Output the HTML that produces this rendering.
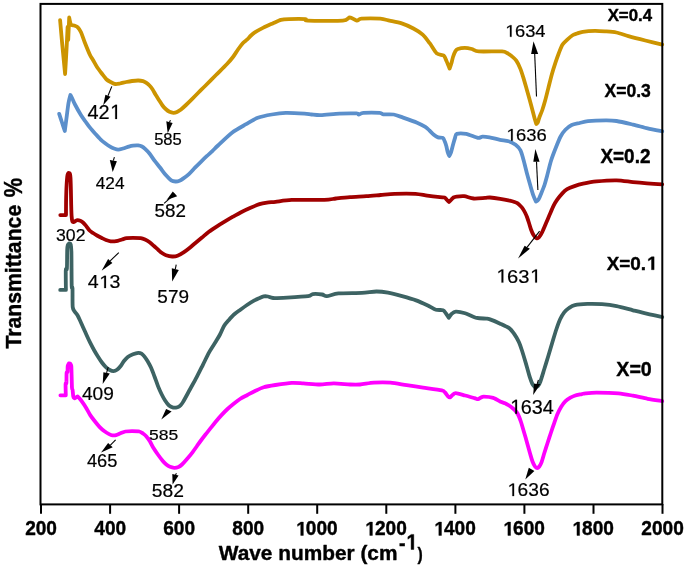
<!DOCTYPE html>
<html><head><meta charset="utf-8"><style>
html,body{margin:0;padding:0;background:#fff;}
body{width:685px;height:566px;overflow:hidden;font-family:"Liberation Sans",sans-serif;}
svg{display:block;will-change:transform;}
text{-webkit-font-smoothing:antialiased;}
</style></head><body>
<svg width="685" height="566" viewBox="0 0 685 566" font-family="Liberation Sans, sans-serif">
<rect width="685" height="566" fill="#fff"/>
<path d="M60.10,20.20 C60.39,23.51 61.63,37.83 62.30,45.00 C62.97,52.17 65.10,74.00 65.10,74.00 C65.10,74.00 66.27,54.27 66.60,48.00 C66.93,41.73 67.60,27.00 67.60,27.00 C67.60,27.00 68.20,40.00 68.20,40.00 C68.20,40.00 69.20,17.50 69.20,17.50 C69.20,17.50 70.35,23.43 71.00,24.50 C71.65,25.57 73.19,25.13 74.10,25.50 C75.01,25.87 76.88,26.39 77.80,27.30 C78.72,28.21 80.08,30.31 81.00,32.30 C81.92,34.29 83.50,39.17 84.70,42.20 C85.90,45.23 88.89,52.63 90.00,55.00 C91.11,57.37 92.07,58.40 93.00,60.00 C93.93,61.60 95.83,65.20 97.00,67.00 C98.17,68.80 100.52,71.83 101.80,73.50 C103.08,75.17 105.41,78.37 106.60,79.50 C107.79,80.63 109.54,81.40 110.70,82.00 C111.86,82.60 114.06,83.80 115.30,84.00 C116.54,84.20 118.53,83.77 120.00,83.50 C121.47,83.23 124.70,82.33 126.30,82.00 C127.90,81.67 130.40,81.20 132.00,81.00 C133.60,80.80 136.83,80.47 138.30,80.50 C139.77,80.53 141.97,80.91 143.00,81.20 C144.03,81.49 145.13,82.13 146.00,82.70 C146.87,83.27 148.63,84.62 149.50,85.50 C150.37,86.38 151.70,88.10 152.50,89.30 C153.30,90.50 154.62,93.05 155.50,94.50 C156.38,95.95 158.17,98.73 159.10,100.20 C160.03,101.67 161.62,104.33 162.50,105.50 C163.38,106.67 164.77,108.16 165.70,109.00 C166.63,109.84 168.47,111.29 169.50,111.80 C170.53,112.31 172.40,112.77 173.40,112.80 C174.40,112.83 175.99,112.44 177.00,112.00 C178.01,111.56 179.80,110.43 181.00,109.50 C182.20,108.57 184.53,106.39 186.00,105.00 C187.47,103.61 190.33,100.77 192.00,99.10 C193.67,97.43 196.75,94.25 198.50,92.50 C200.25,90.75 202.77,88.33 205.10,86.00 C207.43,83.67 213.08,77.93 216.00,75.00 C218.92,72.07 224.73,66.40 227.00,64.00 C229.27,61.60 231.53,58.93 233.00,57.00 C234.47,55.07 236.67,51.37 238.00,49.50 C239.33,47.63 241.80,44.31 243.00,43.00 C244.20,41.69 245.93,40.70 247.00,39.70 C248.07,38.70 249.91,36.50 251.00,35.50 C252.09,34.50 253.55,33.25 255.20,32.20 C256.85,31.15 261.07,28.77 263.40,27.60 C265.73,26.43 270.37,24.43 272.70,23.40 C275.03,22.37 278.73,20.47 280.90,19.90 C283.07,19.33 285.73,19.21 289.00,19.10 C292.27,18.99 302.89,18.90 305.40,19.10 C307.91,19.30 302.81,20.40 307.80,20.60 C312.79,20.80 337.20,21.01 342.80,20.60 C348.40,20.19 347.93,17.50 349.80,17.50 C351.67,17.50 355.24,20.44 356.80,20.60 C358.36,20.76 358.38,18.95 361.50,18.70 C364.62,18.45 376.47,18.45 380.20,18.70 C383.93,18.95 386.63,19.97 389.50,20.60 C392.37,21.23 398.51,22.35 401.70,23.40 C404.89,24.45 410.60,27.01 413.40,28.50 C416.20,29.99 420.53,32.64 422.70,34.60 C424.87,36.56 427.83,40.71 429.70,43.20 C431.57,45.69 434.83,51.65 436.70,53.30 C438.57,54.95 442.39,54.57 443.70,55.60 C445.01,56.63 445.71,59.28 446.50,61.00 C447.29,62.72 449.60,68.50 449.60,68.50 C449.60,68.50 451.05,64.53 451.50,63.00 C451.95,61.47 452.47,58.60 453.00,57.00 C453.53,55.40 454.86,52.07 455.50,51.00 C456.14,49.93 456.56,49.41 457.80,49.00 C459.04,48.59 462.93,47.90 464.80,47.90 C466.67,47.90 469.93,48.53 471.80,49.00 C473.67,49.47 474.76,51.08 478.80,51.40 C482.84,51.72 498.34,51.19 502.10,51.40 C505.86,51.61 505.75,52.39 507.00,53.00 C508.25,53.61 510.26,54.99 511.50,56.00 C512.74,57.01 515.13,58.92 516.30,60.60 C517.47,62.28 519.34,66.27 520.30,68.60 C521.26,70.93 522.65,75.35 523.50,78.10 C524.35,80.85 525.86,86.24 526.70,89.20 C527.54,92.16 528.99,97.34 529.80,100.30 C530.61,103.26 532.13,108.91 532.80,111.40 C533.47,113.89 534.33,117.32 534.80,119.00 C535.27,120.68 536.30,124.00 536.30,124.00 C536.30,124.00 537.37,123.43 537.80,122.50 C538.23,121.57 538.90,118.67 539.50,117.00 C540.10,115.33 541.53,112.27 542.30,110.00 C543.07,107.73 544.51,102.85 545.30,100.00 C546.09,97.15 547.33,92.00 548.20,88.60 C549.07,85.20 550.85,77.89 551.80,74.50 C552.75,71.11 554.37,66.03 555.30,63.20 C556.23,60.37 557.85,55.75 558.80,53.30 C559.75,50.85 561.27,46.63 562.40,44.80 C563.53,42.97 565.89,40.91 567.30,39.60 C568.71,38.29 571.71,35.81 573.00,35.00 C574.29,34.19 575.71,33.93 577.00,33.50 C578.29,33.07 580.34,32.16 582.70,31.80 C585.06,31.44 591.73,30.87 594.70,30.80 C597.67,30.73 602.11,31.07 605.00,31.30 C607.89,31.53 613.28,31.86 616.40,32.50 C619.52,33.14 624.55,35.03 628.40,36.10 C632.25,37.17 640.79,39.37 645.30,40.50 C649.81,41.63 659.95,44.05 662.20,44.60" fill="none" stroke="#CC9400" stroke-width="3.8" stroke-linejoin="round" stroke-linecap="round"/>
<path d="M59.20,113.90 C59.57,115.05 61.25,120.22 62.00,122.50 C62.75,124.78 64.80,131.00 64.80,131.00 C64.80,131.00 66.01,121.73 66.50,118.00 C66.99,114.27 67.98,106.07 68.50,103.00 C69.02,99.93 70.40,95.00 70.40,95.00 C70.40,95.00 71.89,97.73 72.50,99.00 C73.11,100.27 73.88,102.37 75.00,104.50 C76.12,106.63 79.50,112.73 80.90,115.00 C82.30,117.27 84.26,119.78 85.50,121.50 C86.74,123.22 88.87,126.23 90.20,127.90 C91.53,129.57 94.10,132.44 95.50,134.00 C96.90,135.56 99.37,138.33 100.70,139.60 C102.03,140.87 104.25,142.57 105.50,143.50 C106.75,144.43 108.97,145.93 110.10,146.60 C111.23,147.27 112.91,148.10 114.00,148.50 C115.09,148.90 117.10,149.60 118.30,149.60 C119.50,149.60 121.60,148.90 123.00,148.50 C124.40,148.10 127.47,146.99 128.80,146.60 C130.13,146.21 131.76,145.76 133.00,145.60 C134.24,145.44 136.90,145.28 138.10,145.40 C139.30,145.52 141.07,146.03 142.00,146.50 C142.93,146.97 144.10,147.97 145.10,148.90 C146.10,149.83 148.25,151.94 149.50,153.50 C150.75,155.06 153.10,158.73 154.50,160.60 C155.90,162.47 158.49,165.57 160.00,167.50 C161.51,169.43 164.31,173.39 165.80,175.10 C167.29,176.81 169.91,179.45 171.20,180.30 C172.49,181.15 174.39,181.43 175.50,181.50 C176.61,181.57 178.45,181.21 179.50,180.80 C180.55,180.39 182.11,179.33 183.40,178.40 C184.69,177.47 187.65,175.23 189.20,173.80 C190.75,172.37 193.44,169.30 195.00,167.70 C196.56,166.10 199.34,163.33 200.90,161.80 C202.46,160.27 205.14,157.67 206.70,156.20 C208.26,154.73 211.09,152.23 212.60,150.80 C214.11,149.37 215.41,147.91 218.00,145.50 C220.59,143.09 228.25,135.54 232.00,132.70 C235.75,129.86 242.66,126.19 246.10,124.20 C249.54,122.21 254.37,119.09 257.80,117.80 C261.23,116.51 268.07,115.15 271.80,114.50 C275.53,113.85 281.44,113.02 285.80,112.90 C290.16,112.78 301.07,113.39 304.50,113.60 C307.93,113.81 309.33,114.29 311.50,114.50 C313.67,114.71 317.07,115.32 320.80,115.20 C324.53,115.08 334.75,113.84 339.50,113.60 C344.25,113.36 353.84,113.28 356.40,113.40 C358.96,113.52 357.77,114.57 358.70,114.50 C359.63,114.43 360.60,113.11 363.40,112.90 C366.20,112.69 377.06,112.71 379.70,112.90 C382.34,113.09 381.33,114.09 383.20,114.30 C385.07,114.51 391.05,114.06 393.70,114.50 C396.35,114.94 399.98,116.51 403.10,117.60 C406.22,118.69 414.14,121.46 417.10,122.70 C420.06,123.94 423.65,125.86 425.30,126.90 C426.95,127.94 428.41,129.50 429.50,130.50 C430.59,131.50 432.35,133.48 433.50,134.40 C434.65,135.32 436.86,136.93 438.10,137.40 C439.34,137.87 441.91,137.35 442.80,137.90 C443.69,138.45 444.33,140.41 444.80,141.50 C445.27,142.59 445.90,144.63 446.30,146.10 C446.70,147.57 447.40,151.18 447.80,152.50 C448.20,153.82 449.30,156.00 449.30,156.00 C449.30,156.00 450.27,154.64 450.80,153.00 C451.33,151.36 452.74,145.70 453.30,143.70 C453.86,141.70 454.53,139.31 455.00,138.00 C455.47,136.69 455.31,134.45 456.80,133.90 C458.29,133.35 463.39,133.37 466.20,133.90 C469.01,134.43 475.73,137.53 477.90,137.90 C480.07,138.27 480.95,136.77 482.50,136.70 C484.05,136.63 487.17,136.99 489.50,137.40 C491.83,137.81 497.47,139.29 500.00,139.80 C502.53,140.31 506.42,140.53 508.50,141.20 C510.58,141.87 514.00,143.57 515.60,144.80 C517.20,146.03 519.46,148.43 520.50,150.40 C521.54,152.37 522.57,156.67 523.40,159.60 C524.23,162.53 525.79,169.00 526.70,172.40 C527.61,175.80 529.33,182.06 530.20,185.10 C531.07,188.14 532.43,193.00 533.20,195.20 C533.97,197.40 536.00,201.60 536.00,201.60 C536.00,201.60 537.81,200.59 538.50,199.50 C539.19,198.41 540.40,195.33 541.20,193.40 C542.00,191.47 543.73,187.29 544.50,185.00 C545.27,182.71 546.12,179.47 547.00,176.20 C547.88,172.93 549.91,164.33 551.10,160.50 C552.29,156.67 554.63,150.70 555.90,147.50 C557.17,144.30 559.33,138.86 560.60,136.50 C561.87,134.14 563.92,131.33 565.40,129.80 C566.88,128.27 569.79,125.91 571.70,125.00 C573.61,124.09 577.53,123.51 579.70,123.00 C581.87,122.49 584.55,121.55 588.00,121.20 C591.45,120.85 601.79,120.43 605.60,120.40 C609.41,120.37 612.95,120.44 616.60,121.00 C620.25,121.56 628.87,123.63 633.00,124.60 C637.13,125.57 643.71,127.39 647.60,128.30 C651.49,129.21 660.25,130.99 662.20,131.40" fill="none" stroke="#5B8FCB" stroke-width="3.8" stroke-linejoin="round" stroke-linecap="round"/>
<path d="M60.30,215.10 C61.06,215.10 66.00,215.10 66.00,215.10 C66.00,215.10 66.02,204.01 66.10,200.00 C66.18,195.99 66.41,188.33 66.60,185.00 C66.79,181.67 67.23,176.63 67.50,175.00 C67.77,173.37 68.60,172.80 68.60,172.80 C68.60,172.80 69.55,172.81 69.80,173.50 C70.05,174.19 70.35,175.80 70.50,178.00 C70.65,180.20 70.81,186.40 70.90,190.00 C70.99,193.60 71.11,201.53 71.20,205.00 C71.29,208.47 71.44,213.80 71.60,216.00 C71.76,218.20 72.08,220.70 72.40,221.50 C72.72,222.30 73.44,222.16 74.00,222.00 C74.56,221.84 75.76,220.47 76.60,220.30 C77.44,220.13 79.45,220.41 80.30,220.70 C81.15,220.99 82.25,221.85 83.00,222.50 C83.75,223.15 85.02,224.53 85.90,225.60 C86.78,226.67 88.65,229.51 89.60,230.50 C90.55,231.49 92.01,232.33 93.00,233.00 C93.99,233.67 95.83,234.83 97.00,235.50 C98.17,236.17 100.60,237.40 101.80,238.00 C103.00,238.60 104.81,239.56 106.00,240.00 C107.19,240.44 109.57,241.11 110.70,241.30 C111.83,241.49 113.57,241.45 114.50,241.40 C115.43,241.35 116.70,241.15 117.70,240.90 C118.70,240.65 120.81,239.87 122.00,239.50 C123.19,239.13 125.13,238.33 126.60,238.10 C128.07,237.87 131.12,237.80 133.00,237.80 C134.88,237.80 139.10,237.87 140.70,238.10 C142.30,238.33 143.85,238.98 145.00,239.50 C146.15,240.02 148.10,241.13 149.30,242.00 C150.50,242.87 152.79,244.93 154.00,246.00 C155.21,247.07 157.33,249.07 158.40,250.00 C159.47,250.93 160.99,252.31 162.00,253.00 C163.01,253.69 164.64,254.73 166.00,255.20 C167.36,255.67 170.67,256.42 172.20,256.50 C173.73,256.58 175.98,256.35 177.50,255.80 C179.02,255.25 182.00,253.44 183.60,252.40 C185.20,251.36 187.97,249.23 189.50,248.00 C191.03,246.77 193.43,244.60 195.10,243.20 C196.77,241.80 200.16,239.03 202.00,237.50 C203.84,235.97 206.90,233.19 208.90,231.70 C210.90,230.21 214.85,227.67 217.00,226.30 C219.15,224.93 222.87,222.68 225.00,221.40 C227.13,220.12 230.85,217.93 233.00,216.70 C235.15,215.47 238.83,213.36 241.10,212.20 C243.37,211.04 247.55,209.08 250.00,208.00 C252.45,206.92 257.23,204.82 259.50,204.10 C261.77,203.38 264.87,202.91 267.00,202.60 C269.13,202.29 272.21,202.16 275.50,201.80 C278.79,201.44 285.18,200.15 291.70,199.90 C298.22,199.65 318.49,200.09 324.40,199.90 C330.31,199.71 332.59,198.87 336.00,198.50 C339.41,198.13 345.95,197.41 350.00,197.10 C354.05,196.79 362.33,196.48 366.40,196.20 C370.47,195.92 376.75,195.32 380.50,195.00 C384.25,194.68 389.83,193.96 394.50,193.80 C399.17,193.64 411.14,193.55 415.50,193.80 C419.86,194.05 423.93,195.25 427.20,195.70 C430.47,196.15 437.69,196.96 440.00,197.20 C442.31,197.44 443.57,197.13 444.50,197.50 C445.43,197.87 446.40,199.40 447.00,200.00 C447.60,200.60 449.00,202.00 449.00,202.00 C449.00,202.00 450.90,200.10 451.50,199.50 C452.10,198.90 452.82,197.89 453.50,197.50 C454.18,197.11 455.17,196.77 456.60,196.60 C458.03,196.43 461.93,195.95 464.20,196.20 C466.47,196.45 470.83,198.27 473.60,198.50 C476.37,198.73 482.81,198.03 485.00,197.90 C487.19,197.77 487.97,197.38 490.00,197.50 C492.03,197.62 497.57,198.37 500.20,198.80 C502.83,199.23 507.79,200.27 509.70,200.70 C511.61,201.13 513.49,201.67 514.50,202.00 C515.51,202.33 516.50,202.67 517.30,203.20 C518.10,203.73 519.74,205.23 520.50,206.00 C521.26,206.77 522.40,208.13 523.00,209.00 C523.60,209.87 524.47,211.43 525.00,212.50 C525.53,213.57 526.47,215.60 527.00,217.00 C527.53,218.40 528.47,221.33 529.00,223.00 C529.53,224.67 530.40,227.90 531.00,229.50 C531.60,231.10 532.77,233.84 533.50,235.00 C534.23,236.16 535.77,237.89 536.50,238.20 C537.23,238.51 538.23,238.14 539.00,237.30 C539.77,236.46 541.37,233.77 542.30,231.90 C543.23,230.03 545.01,225.61 546.00,223.30 C546.99,220.99 548.70,216.92 549.70,214.60 C550.70,212.28 552.50,207.89 553.50,205.90 C554.50,203.91 556.05,201.34 557.20,199.70 C558.35,198.06 560.78,195.00 562.10,193.60 C563.42,192.20 565.45,190.20 567.10,189.20 C568.75,188.20 572.37,186.83 574.50,186.10 C576.63,185.37 580.17,184.33 583.10,183.70 C586.03,183.07 592.03,181.85 596.50,181.40 C600.97,180.95 611.73,180.21 616.60,180.30 C621.47,180.39 628.95,181.70 633.00,182.10 C637.05,182.50 643.11,183.01 647.00,183.30 C650.89,183.59 660.17,184.17 662.20,184.30" fill="none" stroke="#A00000" stroke-width="3.8" stroke-linejoin="round" stroke-linecap="round"/>
<path d="M60.20,289.90 C60.96,289.90 65.90,289.90 65.90,289.90 C65.90,289.90 65.67,272.85 65.80,270.00 C65.93,267.15 66.71,271.17 66.90,268.50 C67.09,265.83 67.08,253.13 67.20,250.00 C67.32,246.87 67.53,245.87 67.80,245.00 C68.07,244.13 69.20,243.50 69.20,243.50 C69.20,243.50 70.41,243.37 70.70,244.50 C70.99,245.63 71.27,246.47 71.40,252.00 C71.53,257.53 71.55,281.20 71.70,286.00 C71.85,290.80 72.37,285.20 72.50,288.00 C72.63,290.80 72.39,303.84 72.70,307.00 C73.01,310.16 74.16,310.61 74.80,311.70 C75.44,312.79 76.74,313.89 77.50,315.20 C78.26,316.51 79.71,319.79 80.50,321.50 C81.29,323.21 82.53,326.07 83.40,328.00 C84.27,329.93 86.07,333.97 87.00,336.00 C87.93,338.03 89.47,341.33 90.40,343.20 C91.33,345.07 93.00,348.23 94.00,350.00 C95.00,351.77 96.85,354.83 97.90,356.50 C98.95,358.17 100.87,361.13 101.90,362.50 C102.93,363.87 104.55,365.80 105.60,366.80 C106.65,367.80 108.75,369.41 109.80,370.00 C110.85,370.59 112.54,371.23 113.50,371.20 C114.46,371.17 116.04,370.49 117.00,369.80 C117.96,369.11 119.77,367.17 120.70,366.00 C121.63,364.83 123.05,362.21 124.00,361.00 C124.95,359.79 126.60,357.81 127.80,356.90 C129.00,355.99 131.60,354.75 133.00,354.20 C134.40,353.65 137.17,352.88 138.30,352.80 C139.43,352.72 140.73,353.16 141.50,353.60 C142.27,354.04 143.30,355.11 144.10,356.10 C144.90,357.09 146.57,359.44 147.50,361.00 C148.43,362.56 150.17,365.73 151.10,367.80 C152.03,369.87 153.57,374.02 154.50,376.50 C155.43,378.98 157.17,384.07 158.10,386.40 C159.03,388.73 160.57,392.12 161.50,394.00 C162.43,395.88 164.10,398.97 165.10,400.50 C166.10,402.03 167.91,404.55 169.00,405.50 C170.09,406.45 172.17,407.37 173.30,407.60 C174.43,407.83 176.54,407.51 177.50,407.20 C178.46,406.89 179.75,406.01 180.50,405.30 C181.25,404.59 181.85,404.01 183.10,401.90 C184.35,399.79 188.09,392.81 189.90,389.50 C191.71,386.19 194.97,380.39 196.70,377.10 C198.43,373.81 201.25,368.09 202.90,364.80 C204.55,361.51 207.37,355.51 209.10,352.40 C210.83,349.29 214.45,343.89 215.90,341.50 C217.35,339.11 218.92,336.57 220.00,334.50 C221.08,332.43 222.84,327.91 224.00,326.00 C225.16,324.09 227.37,321.73 228.70,320.20 C230.03,318.67 232.44,315.90 234.00,314.50 C235.56,313.10 238.67,310.97 240.40,309.70 C242.13,308.43 245.13,306.24 247.00,305.00 C248.87,303.76 252.80,301.31 254.40,300.40 C256.00,299.49 257.76,298.73 259.00,298.20 C260.24,297.67 262.50,296.63 263.70,296.40 C264.90,296.17 266.75,296.29 268.00,296.50 C269.25,296.71 270.55,297.85 273.10,298.00 C275.65,298.15 282.43,297.84 287.10,297.60 C291.77,297.36 304.67,296.67 308.10,296.20 C311.53,295.73 310.93,294.33 312.80,294.10 C314.67,293.87 320.23,294.22 322.10,294.50 C323.97,294.78 324.61,296.35 326.80,296.20 C328.99,296.05 333.82,293.84 338.50,293.40 C343.18,292.96 356.85,293.15 361.90,292.90 C366.95,292.65 372.92,291.53 376.40,291.50 C379.88,291.47 384.57,292.07 388.00,292.70 C391.43,293.33 398.35,295.17 402.10,296.20 C405.85,297.23 412.67,299.16 416.10,300.40 C419.53,301.64 425.16,304.26 427.80,305.50 C430.44,306.74 433.87,309.07 435.90,309.70 C437.93,310.33 441.65,309.69 443.00,310.20 C444.35,310.71 445.23,312.49 446.00,313.50 C446.77,314.51 448.80,317.80 448.80,317.80 C448.80,317.80 450.57,314.83 451.50,314.00 C452.43,313.17 453.99,311.71 455.80,311.60 C457.61,311.49 462.30,312.36 465.10,313.20 C467.90,314.04 473.99,317.18 476.80,317.90 C479.61,318.62 484.44,318.40 486.20,318.60 C487.96,318.80 488.13,318.72 490.00,319.40 C491.87,320.08 497.60,322.50 500.20,323.70 C502.80,324.90 507.67,327.09 509.50,328.40 C511.33,329.71 512.97,332.29 513.90,333.50 C514.83,334.71 515.79,336.26 516.50,337.50 C517.21,338.74 518.49,341.13 519.20,342.80 C519.91,344.47 521.09,347.88 521.80,350.00 C522.51,352.12 523.78,356.30 524.50,358.70 C525.22,361.10 526.49,365.53 527.20,368.00 C527.91,370.47 529.11,375.07 529.80,377.20 C530.49,379.33 531.65,382.61 532.40,384.00 C533.15,385.39 535.40,387.60 535.40,387.60 C535.40,387.60 537.33,386.81 538.00,386.00 C538.67,385.19 539.56,383.77 540.40,381.50 C541.24,379.23 543.25,372.40 544.30,369.00 C545.35,365.60 547.23,359.53 548.30,356.00 C549.37,352.47 551.23,346.03 552.30,342.50 C553.37,338.97 555.27,332.57 556.30,329.50 C557.33,326.43 558.95,321.79 560.00,319.50 C561.05,317.21 563.00,313.83 564.20,312.30 C565.40,310.77 567.59,308.96 569.00,308.00 C570.41,307.04 572.35,305.65 574.80,305.10 C577.25,304.55 583.77,304.02 587.40,303.90 C591.03,303.78 598.11,303.91 602.00,304.20 C605.89,304.49 612.47,305.29 616.60,306.10 C620.73,306.91 628.87,309.26 633.00,310.30 C637.13,311.34 643.71,313.01 647.60,313.90 C651.49,314.79 660.25,316.59 662.20,317.00" fill="none" stroke="#3D6363" stroke-width="3.8" stroke-linejoin="round" stroke-linecap="round"/>
<path d="M60.40,395.30 C61.12,395.30 65.80,395.30 65.80,395.30 C65.80,395.30 65.52,385.64 65.60,384.00 C65.68,382.36 66.27,384.47 66.40,383.00 C66.53,381.53 66.45,374.47 66.60,373.00 C66.75,371.53 67.35,372.93 67.50,372.00 C67.65,371.07 67.53,367.13 67.70,366.00 C67.87,364.87 68.80,363.50 68.80,363.50 C68.80,363.50 69.97,363.37 70.30,363.70 C70.63,364.03 71.13,364.49 71.30,366.00 C71.47,367.51 71.51,372.07 71.60,375.00 C71.69,377.93 71.87,386.00 72.00,388.00 C72.13,390.00 72.43,388.87 72.60,390.00 C72.77,391.13 73.05,395.39 73.30,396.50 C73.55,397.61 74.50,398.30 74.50,398.30 C74.50,398.30 77.70,396.50 77.70,396.50 C77.70,396.50 79.43,398.32 80.00,399.00 C80.57,399.68 81.21,400.48 82.00,401.60 C82.79,402.72 84.78,405.56 85.90,407.40 C87.02,409.24 89.19,413.52 90.40,415.40 C91.61,417.28 93.76,419.94 95.00,421.50 C96.24,423.06 98.43,425.79 99.70,427.10 C100.97,428.41 103.25,430.37 104.50,431.30 C105.75,432.23 108.03,433.57 109.10,434.10 C110.17,434.63 111.57,435.17 112.50,435.30 C113.43,435.43 115.03,435.37 116.10,435.10 C117.17,434.83 119.26,433.78 120.50,433.30 C121.74,432.82 123.87,431.78 125.40,431.50 C126.93,431.22 130.13,431.20 132.00,431.20 C133.87,431.20 137.93,431.19 139.40,431.50 C140.87,431.81 142.07,432.85 143.00,433.50 C143.93,434.15 145.47,435.33 146.40,436.40 C147.33,437.47 149.05,439.94 150.00,441.50 C150.95,443.06 152.50,446.43 153.50,448.10 C154.50,449.77 156.26,452.28 157.50,454.00 C158.74,455.72 161.63,459.60 162.80,461.00 C163.97,462.40 165.34,463.73 166.30,464.50 C167.26,465.27 168.95,466.36 170.00,466.80 C171.05,467.24 173.07,467.77 174.20,467.80 C175.33,467.83 177.46,467.44 178.50,467.00 C179.54,466.56 180.87,465.57 182.00,464.50 C183.13,463.43 185.60,460.63 187.00,459.00 C188.40,457.37 191.17,454.03 192.50,452.30 C193.83,450.57 195.83,447.64 197.00,446.00 C198.17,444.36 200.17,441.53 201.30,440.00 C202.43,438.47 204.34,435.98 205.50,434.50 C206.66,433.02 208.67,430.57 210.00,428.90 C211.33,427.23 213.94,423.87 215.50,422.00 C217.06,420.13 220.10,416.63 221.70,414.90 C223.30,413.17 225.94,410.47 227.50,409.00 C229.06,407.53 231.73,405.23 233.40,403.90 C235.07,402.57 238.13,400.19 240.00,399.00 C241.87,397.81 245.40,396.07 247.40,395.00 C249.40,393.93 252.83,392.04 255.00,391.00 C257.17,389.96 260.98,388.00 263.70,387.20 C266.42,386.40 271.65,385.57 275.40,385.00 C279.15,384.43 288.05,383.11 291.80,382.90 C295.55,382.69 299.77,383.19 303.50,383.40 C307.23,383.61 315.76,384.50 319.80,384.50 C323.84,384.50 329.75,383.40 333.80,383.40 C337.85,383.40 346.71,384.35 350.20,384.50 C353.69,384.65 356.83,384.74 360.00,384.50 C363.17,384.26 369.95,382.94 374.00,382.70 C378.05,382.46 386.04,382.37 390.40,382.70 C394.76,383.03 402.34,384.55 406.70,385.20 C411.06,385.85 418.42,386.91 423.10,387.60 C427.78,388.29 438.88,389.75 441.80,390.40 C444.72,391.05 444.17,391.71 445.00,392.50 C445.83,393.29 447.33,395.66 448.00,396.30 C448.67,396.94 449.40,397.47 450.00,397.30 C450.60,397.13 451.73,395.55 452.50,395.00 C453.27,394.45 454.12,393.13 455.80,393.20 C457.48,393.27 462.61,394.85 465.10,395.50 C467.59,396.15 472.78,397.62 474.50,398.10 C476.22,398.58 477.13,399.18 478.00,399.10 C478.87,399.02 480.23,397.82 481.00,397.50 C481.77,397.18 482.17,396.65 483.80,396.70 C485.43,396.75 490.84,397.18 493.20,397.90 C495.56,398.62 499.93,401.39 501.50,402.10 C503.07,402.81 504.00,402.75 505.00,403.20 C506.00,403.65 507.93,404.79 509.00,405.50 C510.07,406.21 512.00,407.63 513.00,408.50 C514.00,409.37 515.74,411.01 516.50,412.00 C517.26,412.99 518.10,414.57 518.70,415.90 C519.30,417.23 520.39,420.16 521.00,422.00 C521.61,423.84 522.69,427.63 523.30,429.70 C523.91,431.77 524.99,435.35 525.60,437.50 C526.21,439.65 527.29,443.60 527.90,445.80 C528.51,448.00 529.59,451.91 530.20,454.00 C530.81,456.09 531.86,459.83 532.50,461.50 C533.14,463.17 534.39,465.63 535.00,466.50 C535.61,467.37 536.53,468.00 537.10,468.00 C537.67,468.00 538.69,467.33 539.30,466.50 C539.91,465.67 541.01,463.67 541.70,461.80 C542.39,459.93 543.74,454.94 544.50,452.50 C545.26,450.06 546.53,446.17 547.40,443.50 C548.27,440.83 550.08,435.26 551.00,432.50 C551.92,429.74 553.43,425.27 554.30,422.80 C555.17,420.33 556.58,416.15 557.50,414.00 C558.42,411.85 560.13,408.42 561.20,406.70 C562.27,404.98 564.27,402.31 565.50,401.10 C566.73,399.89 569.19,398.32 570.40,397.60 C571.61,396.88 573.08,396.17 574.60,395.70 C576.12,395.23 580.35,394.42 581.80,394.10 C583.25,393.78 583.54,393.50 585.50,393.30 C587.46,393.10 592.11,392.60 596.50,392.60 C600.89,392.60 613.53,392.89 618.40,393.30 C623.27,393.71 629.11,394.97 633.00,395.70 C636.89,396.43 643.71,398.08 647.60,398.80 C651.49,399.52 660.25,400.79 662.20,401.10" fill="none" stroke="#FF00FF" stroke-width="3.8" stroke-linejoin="round" stroke-linecap="round"/>
<rect x="40.5" y="3.9" width="621.8" height="500.5" fill="none" stroke="#000" stroke-width="2"/>
<line x1="41.0" y1="504" x2="41.0" y2="513.8" stroke="#000" stroke-width="2"/>
<line x1="110.1" y1="504" x2="110.1" y2="513.8" stroke="#000" stroke-width="2"/>
<line x1="179.1" y1="504" x2="179.1" y2="513.8" stroke="#000" stroke-width="2"/>
<line x1="248.2" y1="504" x2="248.2" y2="513.8" stroke="#000" stroke-width="2"/>
<line x1="317.2" y1="504" x2="317.2" y2="513.8" stroke="#000" stroke-width="2"/>
<line x1="386.3" y1="504" x2="386.3" y2="513.8" stroke="#000" stroke-width="2"/>
<line x1="455.4" y1="504" x2="455.4" y2="513.8" stroke="#000" stroke-width="2"/>
<line x1="524.4" y1="504" x2="524.4" y2="513.8" stroke="#000" stroke-width="2"/>
<line x1="593.5" y1="504" x2="593.5" y2="513.8" stroke="#000" stroke-width="2"/>
<line x1="662.5" y1="504" x2="662.5" y2="513.8" stroke="#000" stroke-width="2"/>
<g transform="translate(25.13,535.41) scale(0.9871,1)" fill="#000" stroke="#000" stroke-width="0.4" stroke-linejoin="round"><text font-size="19.35" font-weight="bold">200</text>
</g>
<g transform="translate(94.37,535.41) scale(0.9871,1)" fill="#000" stroke="#000" stroke-width="0.4" stroke-linejoin="round"><text font-size="19.35" font-weight="bold">400</text>
</g>
<g transform="translate(163.23,535.41) scale(0.9871,1)" fill="#000" stroke="#000" stroke-width="0.4" stroke-linejoin="round"><text font-size="19.35" font-weight="bold">600</text>
</g>
<g transform="translate(232.33,535.41) scale(0.9871,1)" fill="#000" stroke="#000" stroke-width="0.4" stroke-linejoin="round"><text font-size="19.35" font-weight="bold">800</text>
</g>
<g transform="translate(295.21,535.41) scale(0.9871,1)" fill="#000" stroke="#000" stroke-width="0.4" stroke-linejoin="round"><text font-size="19.35" font-weight="bold"> 000</text>
<path transform="translate(0.00,0) scale(0.00945,-0.00945)" d="M591,0 V1170 L253,959 V1180 L606,1409 H872 V0 Z" vector-effect="non-scaling-stroke"/>
</g>
<g transform="translate(364.27,535.41) scale(0.9871,1)" fill="#000" stroke="#000" stroke-width="0.4" stroke-linejoin="round"><text font-size="19.35" font-weight="bold"> 200</text>
<path transform="translate(0.00,0) scale(0.00945,-0.00945)" d="M591,0 V1170 L253,959 V1180 L606,1409 H872 V0 Z" vector-effect="non-scaling-stroke"/>
</g>
<g transform="translate(433.33,535.41) scale(0.9871,1)" fill="#000" stroke="#000" stroke-width="0.4" stroke-linejoin="round"><text font-size="19.35" font-weight="bold"> 400</text>
<path transform="translate(0.00,0) scale(0.00945,-0.00945)" d="M591,0 V1170 L253,959 V1180 L606,1409 H872 V0 Z" vector-effect="non-scaling-stroke"/>
</g>
<g transform="translate(502.39,535.41) scale(0.9871,1)" fill="#000" stroke="#000" stroke-width="0.4" stroke-linejoin="round"><text font-size="19.35" font-weight="bold"> 600</text>
<path transform="translate(0.00,0) scale(0.00945,-0.00945)" d="M591,0 V1170 L253,959 V1180 L606,1409 H872 V0 Z" vector-effect="non-scaling-stroke"/>
</g>
<g transform="translate(571.45,535.41) scale(0.9871,1)" fill="#000" stroke="#000" stroke-width="0.4" stroke-linejoin="round"><text font-size="19.35" font-weight="bold"> 800</text>
<path transform="translate(0.00,0) scale(0.00945,-0.00945)" d="M591,0 V1170 L253,959 V1180 L606,1409 H872 V0 Z" vector-effect="non-scaling-stroke"/>
</g>
<g transform="translate(641.36,535.41) scale(0.9871,1)" fill="#000" stroke="#000" stroke-width="0.4" stroke-linejoin="round"><text font-size="19.35" font-weight="bold">2000</text>
</g>
<g transform="translate(218.78,559.50) scale(1.0020,1)" fill="#000" stroke="#000" stroke-width="0.4" stroke-linejoin="round"><text font-size="20.80" font-weight="bold">Wave number (cm</text>
</g>
<g transform="translate(398.93,549.50) scale(0.8926,1)" fill="#000" stroke="#000" stroke-width="0.4" stroke-linejoin="round"><text font-size="21.95" font-weight="bold">- </text>
<path transform="translate(7.31,0) scale(0.01072,-0.01072)" d="M591,0 V1170 L253,959 V1180 L606,1409 H872 V0 Z" vector-effect="non-scaling-stroke"/>
</g>
<g transform="translate(417.48,560.26) scale(0.8210,1)" fill="#000" stroke="#000" stroke-width="0.4" stroke-linejoin="round"><text font-size="18.99" font-weight="bold">)</text>
</g>
<g transform="translate(20.80,348.54) rotate(-90) scale(0.9864,1)" fill="#000" stroke="#000" stroke-width="0.4" stroke-linejoin="round"><text font-size="21.50" font-weight="bold">Transmittance</text>
</g>
<g transform="translate(21.50,197.14) rotate(-90) scale(0.8771,1)" fill="#000" stroke="#000" stroke-width="0.4" stroke-linejoin="round"><text font-size="24.90" font-weight="bold">%</text>
</g>
<g transform="translate(607.65,21.34) scale(1.0095,1)" fill="#000" stroke="#000" stroke-width="0.4" stroke-linejoin="round"><text font-size="16.67" font-weight="bold">X=0.4</text>
</g>
<g transform="translate(604.55,97.30) scale(0.9714,1)" fill="#000" stroke="#000" stroke-width="0.4" stroke-linejoin="round"><text font-size="18.04" font-weight="bold">X=0.3</text>
</g>
<g transform="translate(600.43,163.41) scale(0.9579,1)" fill="#000" stroke="#000" stroke-width="0.4" stroke-linejoin="round"><text font-size="19.77" font-weight="bold">X=0.2</text>
</g>
<g transform="translate(606.63,269.72) scale(1.0064,1)" fill="#000" stroke="#000" stroke-width="0.4" stroke-linejoin="round"><text font-size="18.79" font-weight="bold">X=0. </text>
<path transform="translate(39.17,0) scale(0.00917,-0.00917)" d="M591,0 V1170 L253,959 V1180 L606,1409 H872 V0 Z" vector-effect="non-scaling-stroke"/>
</g>
<g transform="translate(616.33,375.80) scale(0.9456,1)" fill="#000" stroke="#000" stroke-width="0.4" stroke-linejoin="round"><text font-size="20.76" font-weight="bold">X=0</text>
</g>
<g transform="translate(87.44,119.00) scale(0.9649,1)" fill="#000" stroke="#000" stroke-width="0.2" stroke-linejoin="round"><text font-size="20.62" font-weight="normal">42 </text>
<path transform="translate(22.94,0) scale(0.01007,-0.01007)" d="M583,0 V1237 L265,1010 V1180 L598,1409 H764 V0 Z" vector-effect="non-scaling-stroke"/>
</g>
<g transform="translate(154.14,144.83) scale(0.9781,1)" fill="#000" stroke="#000" stroke-width="0.2" stroke-linejoin="round"><text font-size="16.95" font-weight="normal">585</text>
</g>
<g transform="translate(504.73,36.83) scale(1.0824,1)" fill="#000" stroke="#000" stroke-width="0.2" stroke-linejoin="round"><text font-size="16.95" font-weight="normal"> 634</text>
<path transform="translate(0.00,0) scale(0.00828,-0.00828)" d="M583,0 V1237 L265,1010 V1180 L598,1409 H764 V0 Z" vector-effect="non-scaling-stroke"/>
</g>
<g transform="translate(95.70,188.50) scale(1.0045,1)" fill="#000" stroke="#000" stroke-width="0.2" stroke-linejoin="round"><text font-size="17.19" font-weight="normal">424</text>
</g>
<g transform="translate(154.55,216.52) scale(1.0492,1)" fill="#000" stroke="#000" stroke-width="0.2" stroke-linejoin="round"><text font-size="17.94" font-weight="normal">582</text>
</g>
<g transform="translate(505.82,140.73) scale(1.0783,1)" fill="#000" stroke="#000" stroke-width="0.2" stroke-linejoin="round"><text font-size="17.09" font-weight="normal"> 636</text>
<path transform="translate(0.00,0) scale(0.00834,-0.00834)" d="M583,0 V1237 L265,1010 V1180 L598,1409 H764 V0 Z" vector-effect="non-scaling-stroke"/>
</g>
<g transform="translate(56.03,241.23) scale(1.0164,1)" fill="#000" stroke="#000" stroke-width="0.2" stroke-linejoin="round"><text font-size="17.37" font-weight="normal">302</text>
</g>
<g transform="translate(87.75,288.12) scale(1.0930,1)" fill="#000" stroke="#000" stroke-width="0.2" stroke-linejoin="round"><text font-size="17.94" font-weight="normal">4 3</text>
<path transform="translate(9.98,0) scale(0.00876,-0.00876)" d="M583,0 V1237 L265,1010 V1180 L598,1409 H764 V0 Z" vector-effect="non-scaling-stroke"/>
</g>
<g transform="translate(157.34,303.22) scale(1.0255,1)" fill="#000" stroke="#000" stroke-width="0.2" stroke-linejoin="round"><text font-size="18.50" font-weight="normal">579</text>
</g>
<g transform="translate(495.79,282.61) scale(1.0509,1)" fill="#000" stroke="#000" stroke-width="0.2" stroke-linejoin="round"><text font-size="19.21" font-weight="normal"> 63 </text>
<path transform="translate(0.00,0) scale(0.00938,-0.00938)" d="M583,0 V1237 L265,1010 V1180 L598,1409 H764 V0 Z" vector-effect="non-scaling-stroke"/>
<path transform="translate(32.05,0) scale(0.00938,-0.00938)" d="M583,0 V1237 L265,1010 V1180 L598,1409 H764 V0 Z" vector-effect="non-scaling-stroke"/>
</g>
<g transform="translate(81.96,399.61) scale(0.9968,1)" fill="#000" stroke="#000" stroke-width="0.2" stroke-linejoin="round"><text font-size="19.21" font-weight="normal">409</text>
</g>
<g transform="translate(149.10,440.05) scale(1.1488,1)" fill="#000" stroke="#000" stroke-width="0.2" stroke-linejoin="round"><text font-size="15.25" font-weight="normal">585</text>
</g>
<g transform="translate(509.64,413.80) scale(0.9734,1)" fill="#000" stroke="#000" stroke-width="0.2" stroke-linejoin="round"><text font-size="20.34" font-weight="normal"> 634</text>
<path transform="translate(0.00,0) scale(0.00993,-0.00993)" d="M583,0 V1237 L265,1010 V1180 L598,1409 H764 V0 Z" vector-effect="non-scaling-stroke"/>
</g>
<g transform="translate(86.88,466.92) scale(1.0187,1)" fill="#000" stroke="#000" stroke-width="0.2" stroke-linejoin="round"><text font-size="17.94" font-weight="normal">465</text>
</g>
<g transform="translate(151.73,497.33) scale(1.0999,1)" fill="#000" stroke="#000" stroke-width="0.2" stroke-linejoin="round"><text font-size="17.51" font-weight="normal">582</text>
</g>
<g transform="translate(506.92,496.12) scale(1.0355,1)" fill="#000" stroke="#000" stroke-width="0.2" stroke-linejoin="round"><text font-size="18.50" font-weight="normal"> 636</text>
<path transform="translate(0.00,0) scale(0.00903,-0.00903)" d="M583,0 V1237 L265,1010 V1180 L598,1409 H764 V0 Z" vector-effect="non-scaling-stroke"/>
</g>
<line x1="111.8" y1="86.4" x2="108.0" y2="95.7" stroke="#000" stroke-width="1.1"/>
<polygon points="105.4,94.7 110.6,96.7 103.2,105.2" fill="#000"/>
<line x1="170.5" y1="120.3" x2="169.4" y2="122.2" stroke="#000" stroke-width="1.1"/>
<polygon points="166.3,121.3 172.6,123.1 167.7,133.3" fill="#000"/>
<line x1="114.4" y1="157.1" x2="113.3" y2="160.6" stroke="#000" stroke-width="1.1"/>
<polygon points="109.8,159.9 116.9,161.3 112.7,172" fill="#000"/>
<line x1="164.1" y1="203.3" x2="175.0" y2="193.9" stroke="#000" stroke-width="1.1"/>
<polygon points="172.8,191.6 177.2,196.3 166.6,200" fill="#000"/>
<line x1="118.8" y1="252.6" x2="110.2" y2="260.9" stroke="#000" stroke-width="1.1"/>
<polygon points="108.1,258.9 112.4,262.9 101.6,270.8" fill="#000"/>
<line x1="176.2" y1="264.7" x2="175.3" y2="269.1" stroke="#000" stroke-width="1.1"/>
<polygon points="171.8,268.2 178.8,270 172.2,281.5" fill="#000"/>
<line x1="539.6" y1="231.1" x2="527.2" y2="247.2" stroke="#000" stroke-width="1.1"/>
<polygon points="524.6,245.7 529.9,248.8 518.1,258.4" fill="#000"/>
<line x1="536.5" y1="96.4" x2="534.7" y2="54.0" stroke="#000" stroke-width="1.1"/>
<polygon points="531.1,54 538.2,54 533.5,41.2" fill="#000"/>
<line x1="537.9" y1="190" x2="536.5" y2="161.7" stroke="#000" stroke-width="1.1"/>
<polygon points="533.3,161.7 539.6,161.7 535.4,149" fill="#000"/>
<line x1="108.2" y1="367.2" x2="106.6" y2="372.9" stroke="#000" stroke-width="1.1"/>
<polygon points="103.4,372.3 109.8,373.5 102.7,383.9" fill="#000"/>
<polygon points="166.1,409.1 171.6,411.5 161.3,419.5" fill="#000"/>
<line x1="538.4" y1="379.8" x2="537.2" y2="383.9" stroke="#000" stroke-width="1.1"/>
<polygon points="534,383.7 540.4,384.1 533.2,394.9" fill="#000"/>
<line x1="115.6" y1="439.9" x2="110.4" y2="445.2" stroke="#000" stroke-width="1.1"/>
<polygon points="108.1,443.1 112.7,447.3 101.1,452.6" fill="#000"/>
<line x1="176.5" y1="473.4" x2="175.4" y2="474.8" stroke="#000" stroke-width="1.1"/>
<polygon points="172.3,474.1 178.6,475.5 172.6,484.4" fill="#000"/>
<polygon points="528.8,467.7 534.4,470.9 525.3,479.6" fill="#000"/>
</svg>
</body></html>
